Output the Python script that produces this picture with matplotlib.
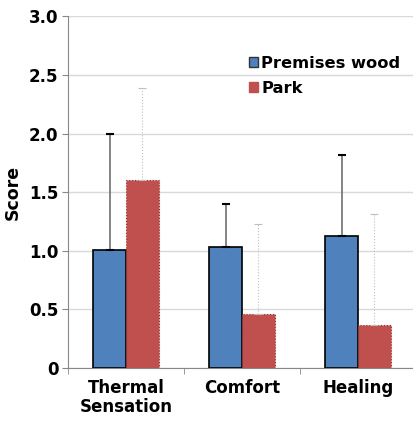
import numpy as np
import matplotlib.pyplot as plt
from matplotlib.patches import Patch

categories = ['Thermal\nSensation', 'Comfort', 'Healing']
wood = [1.01, 1.03, 1.13]
wood_err = [0.99, 0.37, 0.69]
park = [1.60, 0.46, 0.37]
park_err = [0.79, 0.77, 0.94]

blue = '#4F81BD'
red = '#C0504D'

fig = plt.figure(figsize=(4.13, 4.21), dpi=100)
ax = fig.add_axes([0.1646, 0.126, 0.8426, 0.835])

x = np.arange(len(categories))
w = 0.284

ax.bar(x - w / 2, wood, w, color=blue, edgecolor='black', linewidth=1.2, zorder=3)
ax.bar(x + w / 2, park, w, color=red, edgecolor='#8B3330', linewidth=0.8,
       linestyle=':', zorder=3)

eb1 = ax.errorbar(x - w / 2, wood, yerr=[np.zeros(3), wood_err], fmt='none',
                  ecolor='#6f6f6f', elinewidth=1.2, capsize=3, capthick=1.5, zorder=4)
for c in eb1[1]:
    c.set_color('black')
    c.set_markeredgecolor('black')
eb2 = ax.errorbar(x + w / 2, park, yerr=[np.zeros(3), park_err], fmt='none',
                  ecolor='#bfbfbf', elinewidth=0.8, capsize=3, capthick=0.8, zorder=4)
for b in eb2[2]:
    b.set_linestyle(':')

ax.set_xlim(-0.5, 2.5)
ax.set_ylim(0, 3.0)
ax.set_yticks(np.arange(0, 3.01, 0.5))
ax.set_yticklabels(['0', '0.5', '1.0', '1.5', '2.0', '2.5', '3.0'],
                   fontsize=12, fontweight='bold')
ax.set_xticks(x)
ax.set_xticklabels(categories, fontsize=12, fontweight='bold', linespacing=1.1)
ax.set_xticks([-0.5, 0.5, 1.5, 2.5], minor=True)
ax.tick_params(axis='x', which='major', length=0, pad=8)
ax.tick_params(axis='x', which='minor', length=4, color='#888888')
ax.tick_params(axis='y', length=4, color='#888888', pad=3)

ax.grid(axis='y', color='#d9d9d9', linewidth=1, zorder=0)
ax.set_axisbelow(True)
for s in ['top', 'right']:
    ax.spines[s].set_visible(False)
for s in ['left', 'bottom']:
    ax.spines[s].set_color('#888888')

ax.set_ylabel('Score', fontsize=12.5, fontweight='bold', labelpad=5)

handles = [Patch(facecolor=blue, edgecolor='#333333'),
           Patch(facecolor=red, edgecolor=red)]
ax.legend(handles, ['Premises wood', 'Park'], loc='upper left',
          bbox_to_anchor=(0.587, 0.883), bbox_transform=fig.transFigure,
          frameon=False, prop={'size': 11.7, 'weight': 'bold'},
          handlelength=0.55, handleheight=0.55, handletextpad=0.2,
          labelspacing=0.62, borderaxespad=0)

fig.savefig('out.png', dpi=100)
